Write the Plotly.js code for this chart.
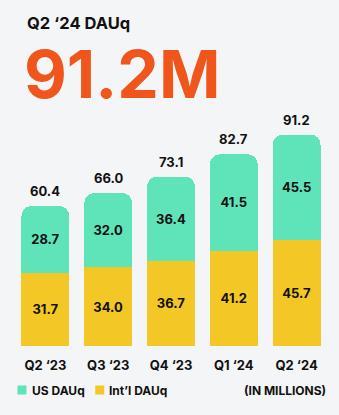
<!DOCTYPE html>
<html>
<head>
<meta charset="utf-8">
<script src="https://cdn.plot.ly/plotly-3.0.1.min.js"></script>
<style>
html,body{margin:0;padding:0;background:#f4f5f7;}
#chart{width:339px;height:415px;}
</style>
</head>
<body>
<div id="chart"></div>
<script>
const quarters = ["Q2 ‘23", "Q3 ‘23", "Q4 ‘23", "Q1 ‘24", "Q2 ‘24"];
const intlDAUq = [31.7, 34.0, 36.7, 41.2, 45.7];
const usDAUq = [28.7, 32.0, 36.4, 41.5, 45.5];
const totalDAUq = [60.4, 66.0, 73.1, 82.7, 91.2];

const FONT = "Inter, 'DejaVu Sans', sans-serif";
const GREEN = "#5fe3b8";
const YELLOW = "#f3c726";
const ORANGE = "#f0561c";

const traces = [
  {
    type: "bar", name: "Int’l DAUq", x: quarters, y: intlDAUq,
    marker: {color: YELLOW},
    text: intlDAUq.map(v => v.toFixed(1)), textposition: "inside",
    insidetextanchor: "middle",
    textfont: {family: FONT, size: 13, color: "#111", weight: 700},
    hoverinfo: "skip", showlegend: false
  },
  {
    type: "bar", name: "US DAUq", x: quarters, y: usDAUq,
    marker: {color: GREEN},
    text: usDAUq.map(v => v.toFixed(1)), textposition: "inside",
    insidetextanchor: "middle",
    textfont: {family: FONT, size: 13, color: "#111", weight: 700},
    hoverinfo: "skip", showlegend: false
  }
];

const annotations = totalDAUq.map((t, i) => ({
  x: quarters[i], y: t, xref: "x", yref: "y", yshift: 15,
  text: t.toFixed(1), showarrow: false,
  font: {family: FONT, size: 13, color: "#111", weight: 700}
}));

const extra = [
  {text: "Q2 ‘24 DAUq", x: 25, y: 23, size: 16.5, color: "#111", anchor: "left"},
  {text: "91.2M", x: 22, y: 73.5, size: 66, color: ORANGE, anchor: "left"},
  {text: "US DAUq", x: 30, y: 390, size: 12, color: "#111", anchor: "left"},
  {text: "Int’l DAUq", x: 107, y: 390, size: 12, color: "#111", anchor: "left"},
  {text: "(IN MILLIONS)", x: 328, y: 390, size: 12, color: "#111", anchor: "right"}
];
const W = 339, H = 415;
const mL = 13.5, mR = 10.5, mT = 110, mB = 69;
const pw = W - mL - mR, ph = H - mT - mB;
extra.forEach(e => {
  annotations.push({
    xref: "paper", yref: "paper",
    x: (e.x - mL) / pw, y: (H - mB - e.y) / ph,
    xanchor: e.anchor, yanchor: "middle",
    text: e.text, showarrow: false,
    font: {family: FONT, size: e.size, color: e.color, weight: 700}
  });
});

const shapes = [
  {type: "rect", xref: "paper", yref: "paper",
   x0: (17 - mL) / pw, x1: (26 - mL) / pw,
   y0: (H - mB - 394.5) / ph, y1: (H - mB - 385.5) / ph,
   fillcolor: GREEN, line: {width: 0}},
  {type: "rect", xref: "paper", yref: "paper",
   x0: (95 - mL) / pw, x1: (104 - mL) / pw,
   y0: (H - mB - 394.5) / ph, y1: (H - mB - 385.5) / ph,
   fillcolor: YELLOW, line: {width: 0}}
];

const layout = {
  width: W, height: H,
  margin: {l: mL, r: mR, t: mT, b: mB, pad: 0},
  paper_bgcolor: "#f4f5f7", plot_bgcolor: "rgba(0,0,0,0)",
  barmode: "stack", bargap: 0.238, barcornerradius: 10,
  showlegend: false,
  xaxis: {
    type: "category", range: [-0.5, 4.5], showgrid: false, zeroline: false,
    showline: false, ticks: "", ticklen: 0, ticklabelstandoff: 10,
    tickfont: {family: FONT, size: 13, color: "#111", weight: 700},
    fixedrange: true
  },
  yaxis: {
    range: [0, ph / (140 / 60.4)], visible: false, showgrid: false,
    zeroline: false, fixedrange: true
  },
  annotations: annotations,
  shapes: shapes
};

Plotly.newPlot("chart", traces, layout, {displayModeBar: false, staticPlot: true});
</script>
</body>
</html>
